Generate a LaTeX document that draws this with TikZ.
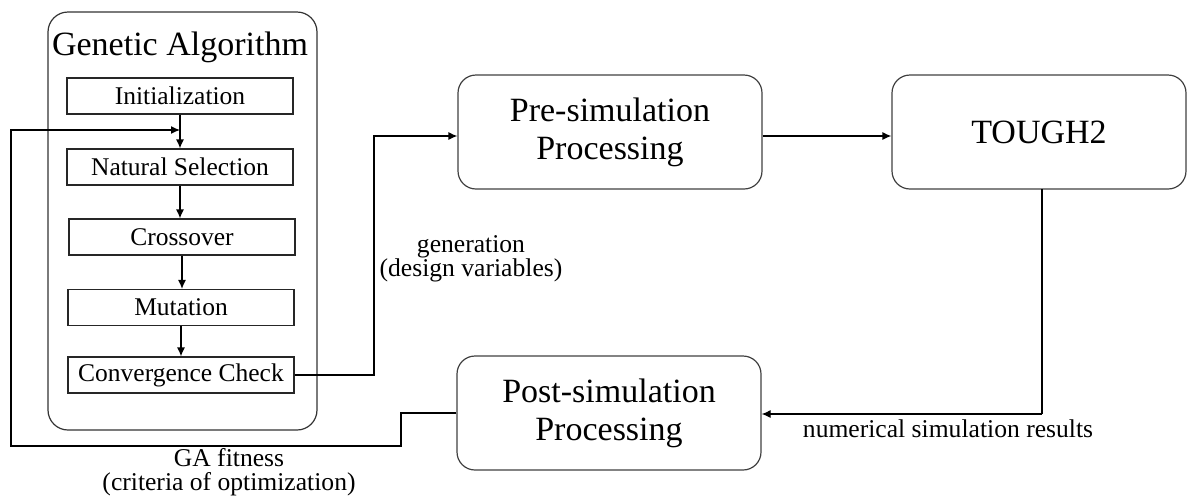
\documentclass[tikz,border=0pt]{standalone}
\usepackage{fontspec}
\setmainfont{Liberation Serif}
\usetikzlibrary{arrows.meta}
\begin{document}
\begin{tikzpicture}[x=1pt,y=-1pt,
  gabox/.style={draw=black!80, line width=1.2pt, rounded corners=20pt, minimum width=269pt, minimum height=418pt, inner sep=0pt},
  stepbox/.style={draw=black!85, line width=1.2pt, minimum width=226pt, minimum height=36pt, inner sep=0pt, font=\fontsize{25.5}{27}\selectfont},
  procbox/.style={draw=black!75, line width=1.2pt, rounded corners=18pt, minimum width=304pt, minimum height=114pt, inner sep=0pt, align=center, font=\fontsize{34}{38}\selectfont},
  conn/.style={draw=black, line width=1.2pt},
  arr/.style={conn, -{Latex[length=9pt,width=8pt]}},
  lbl/.style={align=center, font=\fontsize{25.6}{24.5}\selectfont, inner sep=0pt}]
\useasboundingbox (0,0) rectangle (1187,499);

% Genetic algorithm container
\node[gabox] (ga) at (182.5,221) {};
\node[font=\fontsize{34}{38}\selectfont, inner sep=0pt] (gatitle) at (180,47) {Genetic Algorithm};

\node[stepbox] (init) at (180,96) {Initialization};
\node[stepbox] (nat)  at (180,167) {Natural Selection};
\node[stepbox] (cross) at (182,237) {Crossover};
\node[stepbox] (mut) at (181,307.5) {Mutation};
\node[stepbox] (conv) at (181,375) {Convergence Check};

\draw[arr] (init.south) -- (nat.north);
\draw[arr] (nat.south) -- (nat.south |- cross.north);
\draw[arr] (cross.south) -- (cross.south |- mut.north);
\draw[arr] (mut.south) -- (mut.south |- conv.north);

% Processing boxes
\node[procbox] (pre) at (610,132) {Pre-simulation\\Processing};
\node[procbox, minimum width=294pt] (tough) at (1039,132) {TOUGH2};
\node[procbox] (post) at (609,413) {Post-simulation\\Processing};

% connectors
\coordinate (c1) at (374,375);
\coordinate (c2) at (374,136);
\draw[arr] (conv.east) -- (c1) -- (c2) -- (pre.west |- c2);

\draw[arr] (pre.east |- c2) -- (tough.west |- c2);

\coordinate (t1) at (1042,189);
\coordinate (t2) at (1042,414);
\draw[conn] (t1) -- (t2);
\draw[arr] (t2) -- (post.east |- t2);

\coordinate (f1) at (401,413);
\coordinate (f2) at (401,446);
\coordinate (f3) at (11,446);
\coordinate (f4) at (11,130);
\coordinate (f5) at (180,130);
\draw[arr] (post.west) -- (f1) -- (f2) -- (f3) -- (f4) -- (f5);

% labels
\node[lbl] (lgen) at (471,259) {generation\\(design variables)};
\node[lbl] (lnum) at (948,429) {numerical simulation results};
\node[lbl] (lfit) at (229,472) {GA fitness\\(criteria of optimization)};
\end{tikzpicture}
\end{document}
